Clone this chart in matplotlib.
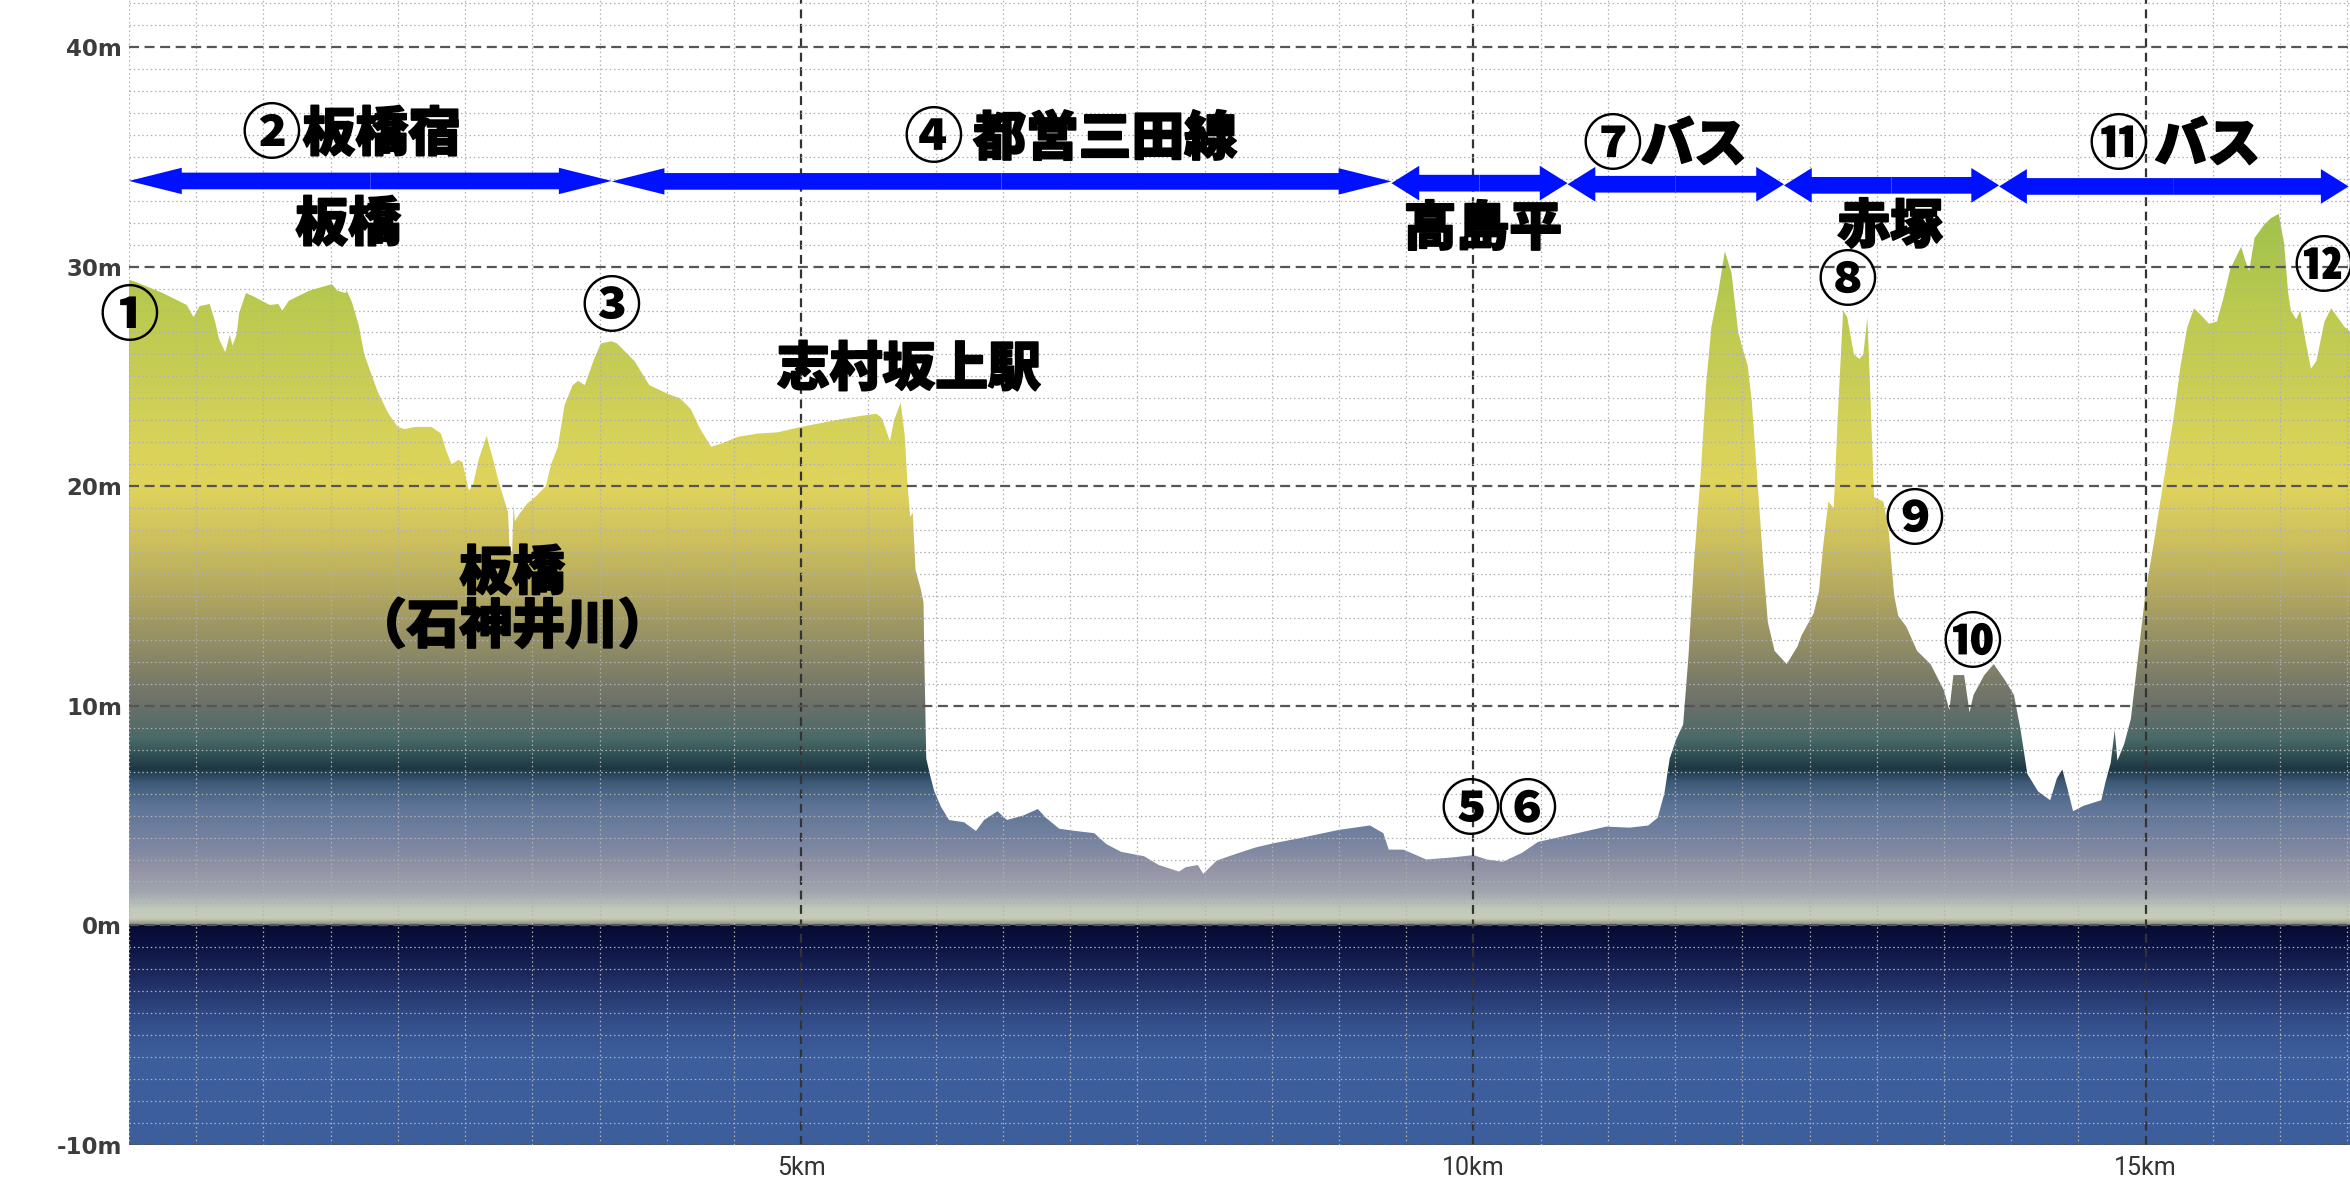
import numpy as np
import matplotlib
matplotlib.use("Agg")
import matplotlib.pyplot as plt
import matplotlib.patheffects as pe
from matplotlib.colors import LinearSegmentedColormap, Normalize
from matplotlib.patches import FancyArrowPatch, Polygon

# ---------------- data ----------------
dist_km = [0.00, 0.05, 0.25, 0.43, 0.48, 0.525, 0.60, 0.64, 0.67, 0.716, 0.75, 0.77, 0.80, 0.82,
           0.87, 0.94, 1.00, 1.05, 1.11, 1.14, 1.19, 1.34, 1.45, 1.51, 1.55, 1.61, 1.62, 1.66,
           1.71, 1.75, 1.85, 1.93, 2.00, 2.05, 2.13, 2.25, 2.32, 2.36, 2.40, 2.45, 2.48, 2.52,
           2.53, 2.56, 2.60, 2.66, 2.70, 2.75, 2.82, 2.83, 2.85, 2.86, 2.87, 2.90, 2.96, 3.02,
           3.10, 3.14, 3.19, 3.24, 3.30, 3.34, 3.39, 3.46, 3.51, 3.59, 3.63, 3.76, 3.87, 4.01,
           4.10, 4.18, 4.24, 4.33, 4.41, 4.53, 4.68, 4.82, 5.00, 5.25, 5.44, 5.56, 5.60, 5.66,
           5.69, 5.74, 5.77, 5.79, 5.81, 5.83, 5.85, 5.89, 5.91, 5.915, 5.93, 5.96, 5.99, 6.04,
           6.10, 6.21, 6.30, 6.36, 6.46, 6.53, 6.65, 6.76, 6.82, 6.92, 7.04, 7.18, 7.27, 7.38,
           7.55, 7.66, 7.81, 7.86, 7.95, 7.99, 8.09, 8.23, 8.38, 8.52, 8.69, 9.00, 9.23, 9.33,
           9.37, 9.48, 9.65, 9.85, 10.00, 10.10, 10.22, 10.36, 10.48, 10.70, 10.99, 11.16, 11.30,
           11.37, 11.42, 11.46, 11.51, 11.56, 11.60, 11.64, 11.69, 11.73, 11.77, 11.82, 11.87,
           11.92, 11.94, 11.97, 12.01, 12.04, 12.07, 12.11, 12.16, 12.19, 12.24, 12.33, 12.41,
           12.44, 12.53, 12.57, 12.60, 12.64, 12.68, 12.71, 12.75, 12.78, 12.83, 12.87, 12.90,
           12.93, 12.95, 12.98, 13.05, 13.09, 13.13, 13.16, 13.22, 13.30, 13.40, 13.50, 13.54,
           13.57, 13.65, 13.69, 13.72, 13.80, 13.87, 13.95, 14.02, 14.07, 14.12, 14.20, 14.29,
           14.34, 14.38, 14.42, 14.46, 14.54, 14.67, 14.70, 14.74, 14.77, 14.79, 14.84, 14.89,
           14.94, 15.00, 15.06, 15.14, 15.21, 15.26, 15.31, 15.36, 15.41, 15.47, 15.53, 15.58,
           15.63, 15.71, 15.74, 15.77, 15.81, 15.88, 15.93, 15.99, 16.03, 16.06, 16.08, 16.12,
           16.15, 16.19, 16.23, 16.27, 16.33, 16.38, 16.48, 16.53]
elev_m = [29.4, 29.3, 28.8, 28.25, 27.7, 28.2, 28.3, 27.5, 26.7, 26.1, 26.9, 26.4, 26.9, 27.9,
          28.8, 28.6, 28.4, 28.25, 28.3, 28.0, 28.45, 28.9, 29.1, 29.2, 28.9, 28.8, 28.9, 28.35,
          27.3, 26.0, 24.3, 23.3, 22.7, 22.6, 22.7, 22.7, 22.4, 21.6, 21.0, 21.2, 21.1, 20.0,
          19.8, 20.1, 21.2, 22.3, 21.4, 20.2, 18.8, 17.2, 17.0, 19.2, 18.4, 18.7, 19.2, 19.5,
          20.0, 21.0, 21.8, 23.7, 24.6, 24.8, 24.6, 25.8, 26.5, 26.6, 26.5, 25.7, 24.6, 24.2,
          24.0, 23.5, 22.7, 21.8, 21.95, 22.25, 22.4, 22.45, 22.7, 23.0, 23.2, 23.3, 23.1, 22.05,
          23.0, 23.8, 22.3, 20.2, 18.6, 18.8, 16.2, 15.3, 14.7, 12.5, 7.6, 6.8, 6.1, 5.4,
          4.8, 4.7, 4.3, 4.8, 5.2, 4.8, 5.0, 5.3, 4.9, 4.4, 4.3, 4.2, 3.7, 3.35,
          3.15, 2.75, 2.45, 2.65, 2.75, 2.35, 2.95, 3.25, 3.55, 3.75, 3.95, 4.35, 4.55, 4.2,
          3.45, 3.45, 3.0, 3.1, 3.2, 3.0, 2.9, 3.3, 3.8, 4.1, 4.5, 4.45, 4.55,
          4.9, 6.0, 7.6, 8.5, 9.15, 12.3, 16.5, 20.5, 24.6, 27.25, 28.8, 30.7,
          29.7, 28.6, 27.0, 26.1, 25.5, 23.9, 20.5, 16.1, 13.8, 12.5, 11.9, 12.7,
          13.2, 14.2, 15.2, 17.2, 19.3, 19.0, 23.2, 28.0, 27.7, 26.0, 25.8, 26.0,
          27.7, 24.6, 19.5, 19.3, 17.9, 15.0, 14.1, 13.6, 12.5, 11.9, 10.7, 9.8,
          11.4, 11.4, 9.7, 10.5, 11.4, 11.9, 11.2, 10.5, 8.9, 6.9, 6.1, 5.7,
          6.7, 7.1, 6.2, 5.2, 5.45, 5.7, 6.5, 7.4, 8.9, 7.5, 8.25, 9.4,
          12.05, 15.2, 17.4, 20.5, 23.2, 25.5, 27.25, 28.1, 27.8, 27.4, 27.5, 28.6,
          29.9, 30.9, 30.3, 29.8, 31.3, 31.9, 32.2, 32.4, 31.05, 28.8, 28.0, 27.6,
          28.0, 26.6, 25.35, 25.7, 27.5, 28.1, 27.25, 27.0]

x_ticks_km = [5, 10, 15]
x_tick_labels = ["5km", "10km", "15km"]
y_ticks_m = [-10, 0, 10, 20, 30, 40]
y_tick_labels = ["-10m", "0m", "10m", "20m", "30m", "40m"]

# route sections (double arrows)
section_edges_km = [0.0, 3.59, 9.39, 10.70, 12.31, 13.91, 16.51]
section_arrow_m = [33.9, 33.88, 33.8, 33.75, 33.7, 33.65]

# text annotations: (text, km, m)
word_labels = [
    ("板橋宿", 1.88, 36.0),
    ("板橋", 1.63, 31.9),
    ("志村坂上駅", 5.80, 25.3),
    ("都営三田線", 7.26, 35.8),
    ("高島平", 10.07, 31.7),
    ("バス", 11.64, 35.5),
    ("赤塚", 13.10, 31.8),
    ("バス", 15.46, 35.5),
    ("板橋\n（石神井川）", 2.85, 14.8),
]
# circled point numbers: (text, km, m)
point_labels = [
    ("①", 0.0, 27.7),
    ("②", 1.06, 36.0),
    ("③", 3.59, 28.1),
    ("④", 5.98, 35.8),
    ("⑤", 9.98, 5.2),
    ("⑥", 10.40, 5.2),
    ("⑦", 11.03, 35.5),
    ("⑧", 12.78, 29.3),
    ("⑨", 13.28, 18.4),
    ("⑩", 13.71, 12.8),
    ("⑪", 14.80, 35.5),
    ("⑫", 16.32, 29.95),
]

# ---------------- styling ----------------
X_MAX = 16.52
Y_MIN, Y_MAX = -10.0, 42.14

elev_stops = [-10, -6, -4.5, -2.5, -1, 0, 0.03, 0.3, 0.7, 1.5, 2.5, 4, 5.5, 6.5, 7.1, 7.6,
              8.5, 10, 12.5, 15, 17.5, 20, 22, 25, 28, 31, 33, 42.14]
stop_colors = ["#3d5e9c", "#3d5e9c", "#34508c", "#1f2d63", "#0d1442", "#060a33", "#8d8c7e",
               "#c6ccb8", "#c2cabc", "#a0a6ae", "#9494a6", "#7482a0", "#5c7396", "#3d5a78",
               "#1d3744", "#2a4a50", "#4a6a68", "#6a706a", "#8e8a66", "#b0a660", "#cdc05e",
               "#e0d35c", "#d8d35a", "#c8cd55", "#bcca50", "#a8c44c", "#9fc24a", "#9fc24a"]
cmap = LinearSegmentedColormap.from_list(
    "elev", [((e - Y_MIN) / (Y_MAX - Y_MIN), c) for e, c in zip(elev_stops, stop_colors)], N=2048)

CJK = ["Noto Sans CJK JP", "DejaVu Sans"]

fig = plt.figure(figsize=(23.5, 11.87), dpi=100, facecolor="white")
ax = fig.add_axes([129 / 2350, 42 / 1187, 1 - 129 / 2350, 1 - 42 / 1187])
ax.set_xlim(0, X_MAX)
ax.set_ylim(Y_MIN, Y_MAX)
ax.set_facecolor("white")

x = np.asarray(dist_km)
y = np.asarray(elev_m)
verts = np.column_stack([np.r_[x[0], x, x[-1]], np.r_[Y_MIN, y, Y_MIN]])
clip = Polygon(verts, closed=True, facecolor="none", edgecolor="none", transform=ax.transData)
ax.add_patch(clip)

grad = np.linspace(Y_MIN, Y_MAX, 3000).reshape(-1, 1)
im = ax.imshow(grad, extent=[0, X_MAX, Y_MIN, Y_MAX], origin="lower", aspect="auto",
               cmap=cmap, norm=Normalize(Y_MIN, Y_MAX), interpolation="bilinear", zorder=1)
im.set_clip_path(clip)

# grid
ax.set_xticks(x_ticks_km)
ax.set_xticklabels(x_tick_labels)
ax.set_xticks(np.arange(0, X_MAX, 0.5), minor=True)
ax.set_yticks(y_ticks_m)
ax.set_yticklabels(y_tick_labels)
ax.set_yticks(np.arange(-10, 43, 1), minor=True)
ax.set_axisbelow(False)
ax.grid(which="minor", color="#b0b0b0", linestyle=(0, (1.2, 2.2)), linewidth=0.9)
ax.grid(which="major", axis="x", color="#333333", linestyle=(0, (4, 2.5)), linewidth=1.6)
ax.grid(which="major", axis="y", color="#555555", linestyle=(0, (4.5, 2.5)), linewidth=1.6)
for s in ax.spines.values():
    s.set_visible(False)
ax.tick_params(which="both", length=0)
ax.tick_params(axis="y", pad=5)
ax.tick_params(axis="x", pad=8)
for t in ax.get_yticklabels():
    t.set_fontfamily("DejaVu Sans")
    t.set_fontweight("bold")
    t.set_fontsize(16.5)
    t.set_color("#3c3c3c")
for t in ax.get_xticklabels():
    t.set_fontfamily("Roboto")
    t.set_fontsize(18)
    t.set_color("#333333")

# section arrows
for i in range(len(section_arrow_m)):
    x0, x1 = section_edges_km[i], section_edges_km[i + 1]
    ym = section_arrow_m[i]
    xm = 0.5 * (x0 + x1)
    hl = 38 if i < 2 else 20
    hw = 19 if i < 2 else 25
    for xe in (x0, x1):
        a = FancyArrowPatch((xm, ym), (xe, ym), mutation_scale=1,
                            arrowstyle=f"simple,head_length={hl},head_width={hw},tail_width=12",
                            color="#0011ff", lw=0, shrinkA=0, shrinkB=0, zorder=4)
        ax.add_patch(a)

bold_fx = [pe.withStroke(linewidth=1.3, foreground="black")]
for txt, xk, ym in word_labels:
    ax.text(xk, ym, txt, ha="center", va="center", fontsize=38, fontweight="heavy",
            family=CJK, color="black", zorder=5, linespacing=1.0, multialignment="center",
            path_effects=bold_fx)
for txt, xk, ym in point_labels:
    ax.text(xk, ym, txt, ha="center", va="center", fontsize=43, fontweight="heavy",
            family=CJK, color="black", zorder=5)

fig.savefig("out.png", dpi=100, facecolor="white")
